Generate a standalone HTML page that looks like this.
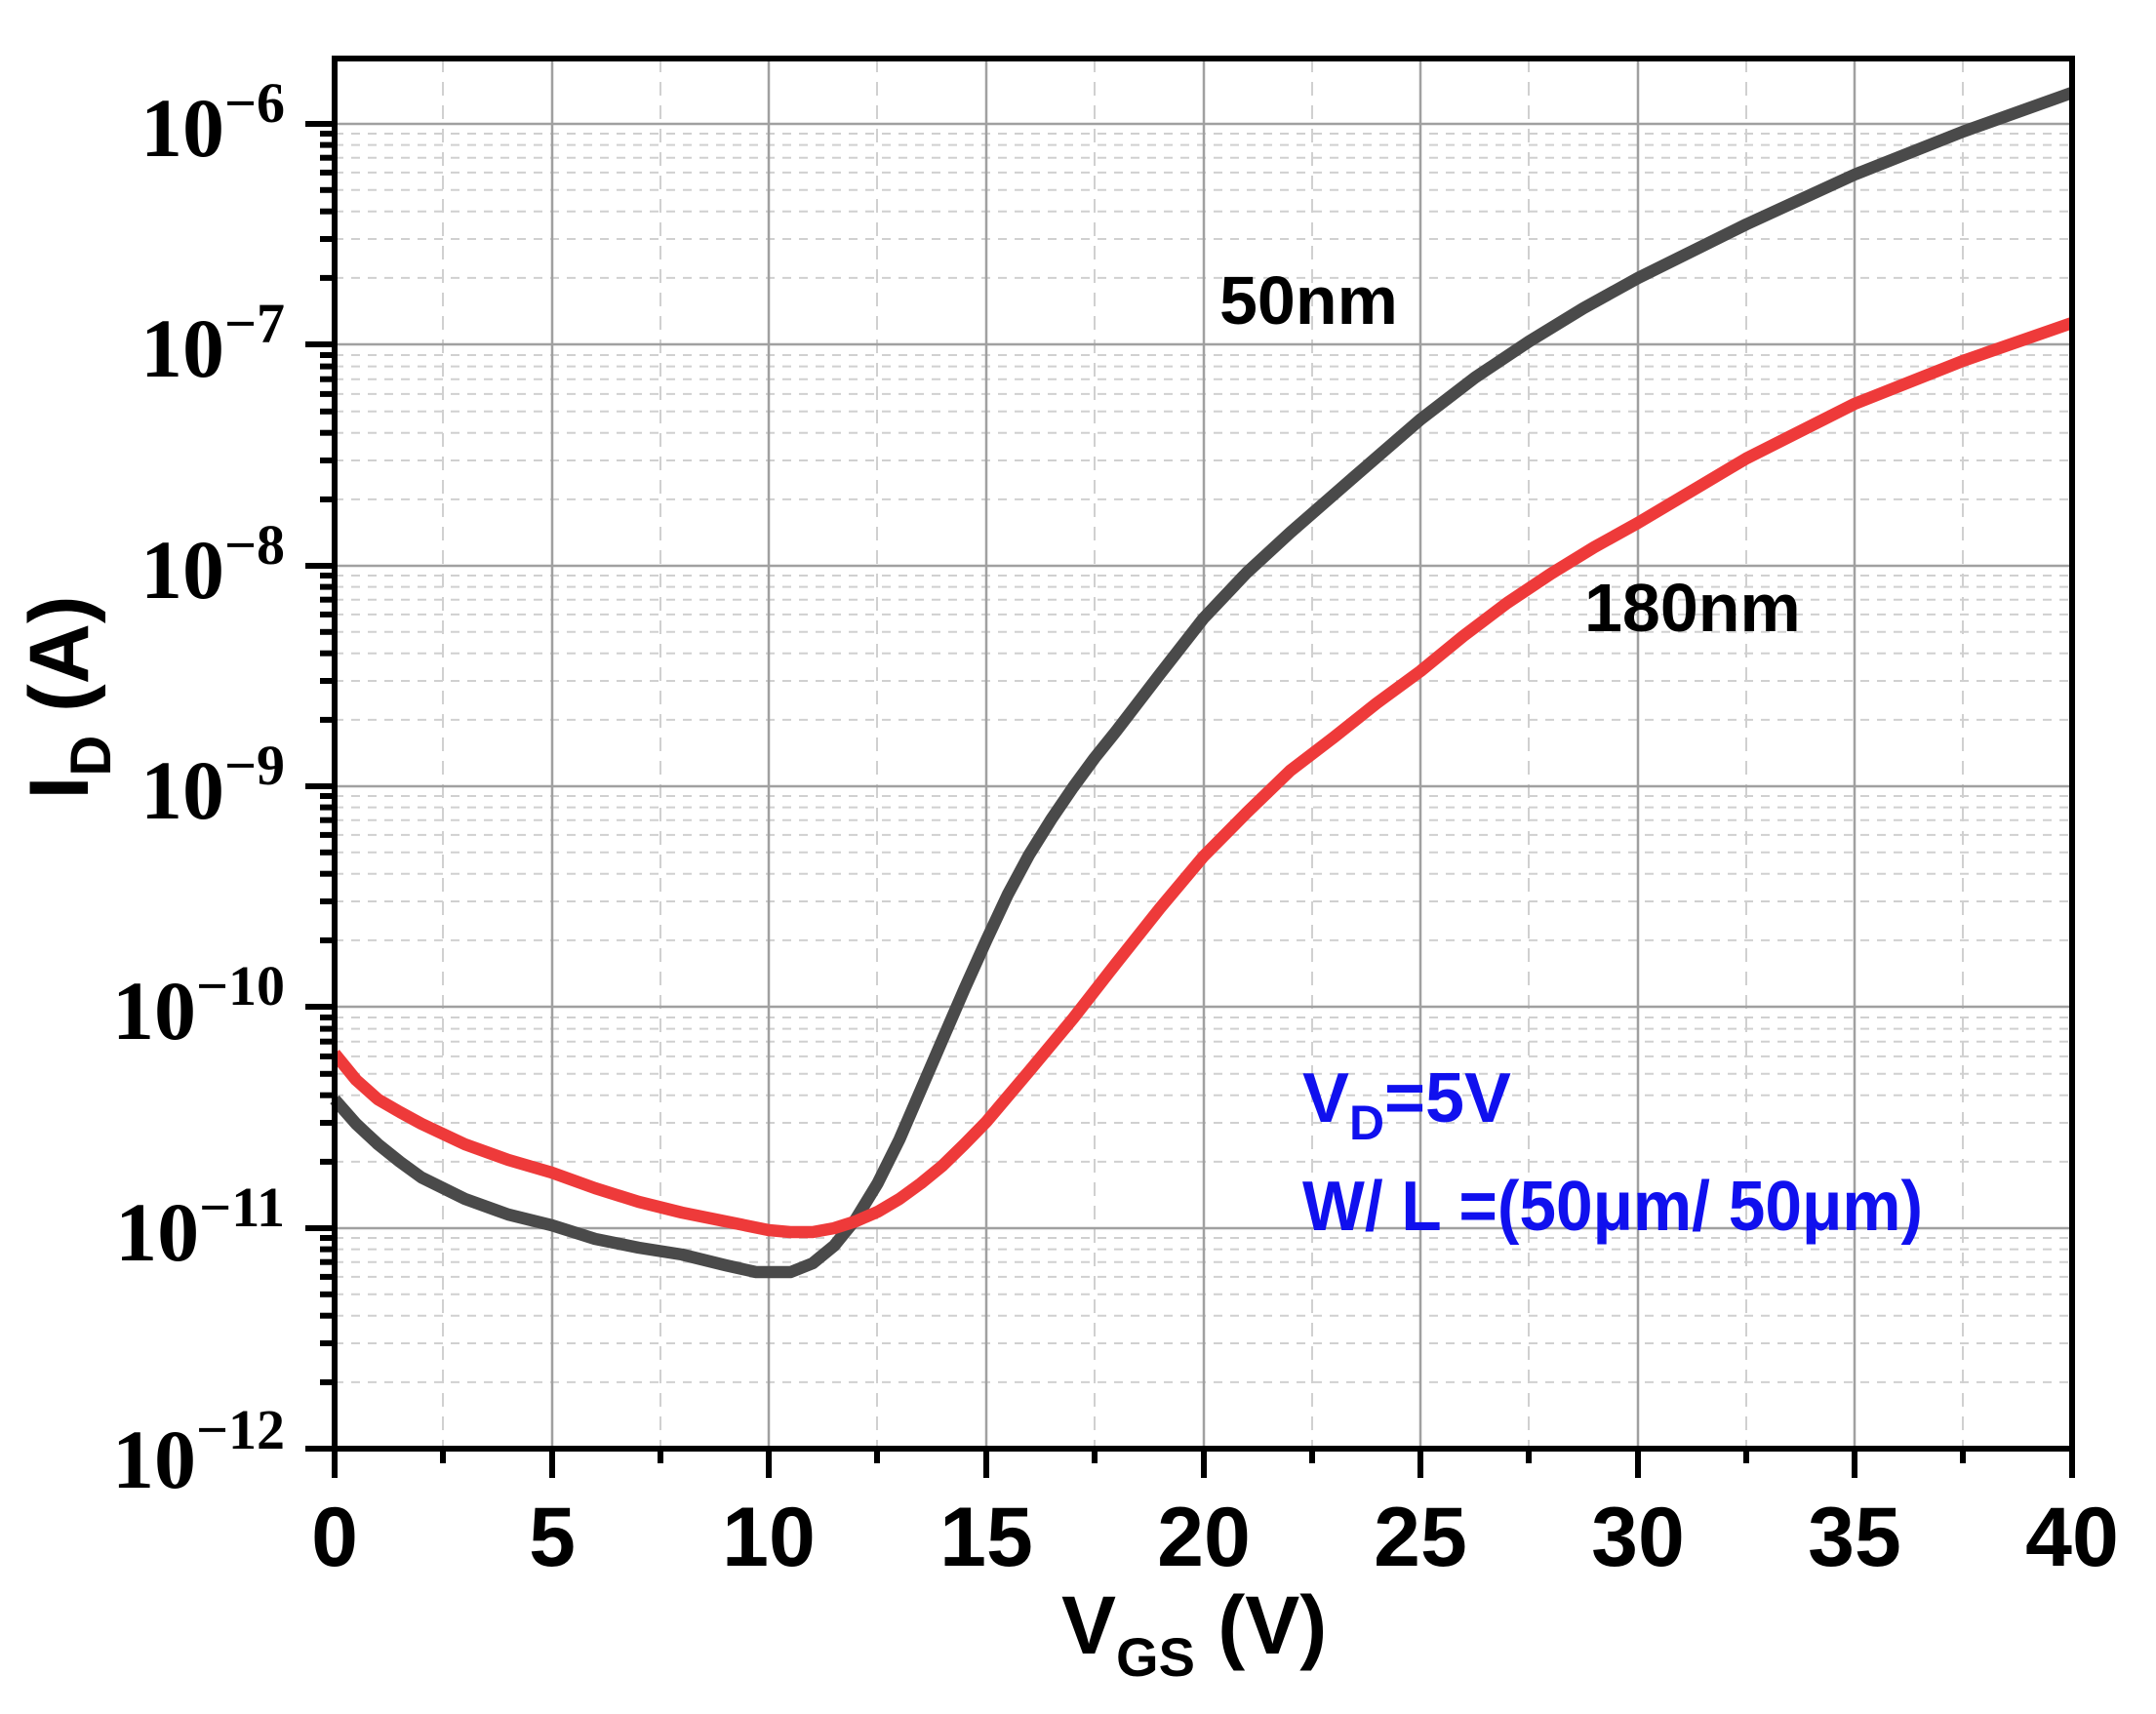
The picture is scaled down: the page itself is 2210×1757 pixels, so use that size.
<!DOCTYPE html>
<html><head><meta charset="utf-8"><style>
html,body{margin:0;padding:0;background:#fff;}
svg{display:block;}
</style></head><body>
<svg xmlns="http://www.w3.org/2000/svg" xmlns:xlink="http://www.w3.org/1999/xlink" width="2210" height="1757" viewBox="0 0 2210 1757">
<defs>
<g id="dec">
<line x1="343" x2="2124" y1="-68.1" y2="-68.1"/>
<line x1="343" x2="2124" y1="-108" y2="-108"/>
<line x1="343" x2="2124" y1="-136.3" y2="-136.3"/>
<line x1="343" x2="2124" y1="-158.2" y2="-158.2"/>
<line x1="343" x2="2124" y1="-176.1" y2="-176.1"/>
<line x1="343" x2="2124" y1="-191.3" y2="-191.3"/>
<line x1="343" x2="2124" y1="-204.4" y2="-204.4"/>
<line x1="343" x2="2124" y1="-216" y2="-216"/>
</g>
<g id="mt">
<line x1="328" x2="343" y1="-68.1" y2="-68.1"/>
<line x1="328" x2="343" y1="-108" y2="-108"/>
<line x1="328" x2="343" y1="-136.3" y2="-136.3"/>
<line x1="328" x2="343" y1="-158.2" y2="-158.2"/>
<line x1="328" x2="343" y1="-176.1" y2="-176.1"/>
<line x1="328" x2="343" y1="-191.3" y2="-191.3"/>
<line x1="328" x2="343" y1="-204.4" y2="-204.4"/>
<line x1="328" x2="343" y1="-216" y2="-216"/>
</g>
</defs>
<rect width="2210" height="1757" fill="#fff"/>
<g stroke="#d0d0d0" stroke-width="2" stroke-dasharray="9,8">
<use xlink:href="#dec" transform="translate(0,353)"/>
<use xlink:href="#dec" transform="translate(0,580)"/>
<use xlink:href="#dec" transform="translate(0,806)"/>
<use xlink:href="#dec" transform="translate(0,1032)"/>
<use xlink:href="#dec" transform="translate(0,1259)"/>
<use xlink:href="#dec" transform="translate(0,1485)"/>
</g>
<g stroke="#d0d0d0" stroke-width="2" stroke-dasharray="14,10">
<line x1="454" x2="454" y1="60" y2="1485"/>
<line x1="677" x2="677" y1="60" y2="1485"/>
<line x1="899" x2="899" y1="60" y2="1485"/>
<line x1="1122" x2="1122" y1="60" y2="1485"/>
<line x1="1345" x2="1345" y1="60" y2="1485"/>
<line x1="1567" x2="1567" y1="60" y2="1485"/>
<line x1="1790" x2="1790" y1="60" y2="1485"/>
<line x1="2012" x2="2012" y1="60" y2="1485"/>
</g>
<g stroke="#a0a0a0" stroke-width="2.5">
<line x1="566" x2="566" y1="60" y2="1485"/>
<line x1="788" x2="788" y1="60" y2="1485"/>
<line x1="1011" x2="1011" y1="60" y2="1485"/>
<line x1="1234" x2="1234" y1="60" y2="1485"/>
<line x1="1456" x2="1456" y1="60" y2="1485"/>
<line x1="1679" x2="1679" y1="60" y2="1485"/>
<line x1="1901" x2="1901" y1="60" y2="1485"/>
<line x1="343" x2="2124" y1="127" y2="127"/>
<line x1="343" x2="2124" y1="353" y2="353"/>
<line x1="343" x2="2124" y1="580" y2="580"/>
<line x1="343" x2="2124" y1="806" y2="806"/>
<line x1="343" x2="2124" y1="1032" y2="1032"/>
<line x1="343" x2="2124" y1="1259" y2="1259"/>
</g>
<polyline fill="none" stroke="#4a4a4a" stroke-width="12.5" stroke-linejoin="round" stroke-linecap="butt"
points="343,1127 365,1152 387.5,1173 410,1191 432,1207 476.6,1229 521,1245 565.6,1256 610,1270 654.7,1279 699,1286 743.7,1297 775,1304 810.5,1304 833,1295 855,1277 877,1250 899.6,1213 922,1168 944,1117 966,1066 988.5,1014 1011,964 1033,917 1055,876 1077.5,840 1100,807 1122,777 1144.5,749 1189,691 1233.5,634 1278,587 1322.5,546 1389,488 1456,430 1512,387 1567.4,350 1623,316 1679,285 1790,230 1901,179 2012,135 2124,95"/>
<polyline fill="none" stroke="#ee3a3a" stroke-width="12.5" stroke-linejoin="round" stroke-linecap="butt"
points="343,1080 365,1107 387.5,1127 410,1140 432,1152 476.6,1173 521,1189 565.6,1202 610,1218 654.7,1232 699,1243 743.7,1252 788,1261 810,1263 833,1263 855,1259 877,1252 900,1242 922,1229 944,1213 966,1195 988.5,1173 1011,1150 1055,1098 1100,1044 1144.5,987 1189,931 1233.5,878 1278,833 1322.5,790 1367,756 1411,721 1456,688 1500,652 1545,618 1590,588 1634,561 1679,536 1790,470 1901,414 2012,370 2124,331"/>
<rect x="343" y="60" width="1781" height="1425" fill="none" stroke="#000" stroke-width="6"/>
<g stroke="#000" stroke-width="6">
<line x1="313" x2="343" y1="127" y2="127"/>
<line x1="313" x2="343" y1="353" y2="353"/>
<line x1="313" x2="343" y1="580" y2="580"/>
<line x1="313" x2="343" y1="806" y2="806"/>
<line x1="313" x2="343" y1="1032" y2="1032"/>
<line x1="313" x2="343" y1="1259" y2="1259"/>
<line x1="313" x2="343" y1="1485" y2="1485"/>
<use xlink:href="#mt" transform="translate(0,353)"/>
<use xlink:href="#mt" transform="translate(0,580)"/>
<use xlink:href="#mt" transform="translate(0,806)"/>
<use xlink:href="#mt" transform="translate(0,1032)"/>
<use xlink:href="#mt" transform="translate(0,1259)"/>
<use xlink:href="#mt" transform="translate(0,1485)"/>
</g>
<g stroke="#000" stroke-width="6">
<line x1="343" x2="343" y1="1485" y2="1515"/>
<line x1="566" x2="566" y1="1485" y2="1515"/>
<line x1="788" x2="788" y1="1485" y2="1515"/>
<line x1="1011" x2="1011" y1="1485" y2="1515"/>
<line x1="1234" x2="1234" y1="1485" y2="1515"/>
<line x1="1456" x2="1456" y1="1485" y2="1515"/>
<line x1="1679" x2="1679" y1="1485" y2="1515"/>
<line x1="1901" x2="1901" y1="1485" y2="1515"/>
<line x1="2124" x2="2124" y1="1485" y2="1515"/>
<line x1="454" x2="454" y1="1485" y2="1500"/>
<line x1="677" x2="677" y1="1485" y2="1500"/>
<line x1="899" x2="899" y1="1485" y2="1500"/>
<line x1="1122" x2="1122" y1="1485" y2="1500"/>
<line x1="1345" x2="1345" y1="1485" y2="1500"/>
<line x1="1567" x2="1567" y1="1485" y2="1500"/>
<line x1="1790" x2="1790" y1="1485" y2="1500"/>
<line x1="2012" x2="2012" y1="1485" y2="1500"/>
</g>
<g font-family="Liberation Serif, serif" font-weight="bold" fill="#000" text-anchor="end">
<text x="292" y="160" font-size="86">10<tspan font-size="58" dy="-35">−6</tspan></text>
<text x="292" y="386" font-size="86">10<tspan font-size="58" dy="-35">−7</tspan></text>
<text x="292" y="613" font-size="86">10<tspan font-size="58" dy="-35">−8</tspan></text>
<text x="292" y="839" font-size="86">10<tspan font-size="58" dy="-35">−9</tspan></text>
<text x="292" y="1065" font-size="86">10<tspan font-size="58" dy="-35">−10</tspan></text>
<text x="292" y="1292" font-size="86">10<tspan font-size="58" dy="-35">−11</tspan></text>
<text x="292" y="1525" font-size="86">10<tspan font-size="58" dy="-40">−12</tspan></text>
</g>
<g font-family="Liberation Sans, Arial, sans-serif" font-weight="bold" font-size="86" fill="#000" text-anchor="middle">
<text x="343" y="1605">0</text>
<text x="566" y="1605">5</text>
<text x="788" y="1605">10</text>
<text x="1011" y="1605">15</text>
<text x="1234" y="1605">20</text>
<text x="1456" y="1605">25</text>
<text x="1679" y="1605">30</text>
<text x="1901" y="1605">35</text>
<text x="2124" y="1605">40</text>
</g>
<text x="1088" y="1695" font-family="Liberation Sans, Arial, sans-serif" font-weight="bold" font-size="84" fill="#000">V<tspan font-size="56" dy="23">GS</tspan><tspan dy="-23"> (V)</tspan></text>
<text transform="translate(90,715) rotate(-90)" text-anchor="middle" font-family="Liberation Sans, Arial, sans-serif" font-weight="bold" font-size="86" fill="#000">I<tspan font-size="58" dy="23">D</tspan><tspan dy="-23">  (A)</tspan></text>
<text x="1250" y="332" font-family="Liberation Sans, Arial, sans-serif" font-weight="bold" font-size="70" fill="#000">50nm</text>
<text x="1624" y="647" font-family="Liberation Sans, Arial, sans-serif" font-weight="bold" font-size="70" fill="#000">180nm</text>
<text x="1335" y="1150" font-family="Liberation Sans, Arial, sans-serif" font-weight="bold" font-size="72" fill="#1010ee" textLength="214" lengthAdjust="spacingAndGlyphs">V<tspan font-size="50" dy="18">D</tspan><tspan dy="-18">=5V</tspan></text>
<text x="1335" y="1261" font-family="Liberation Sans, Arial, sans-serif" font-weight="bold" font-size="72" fill="#1010ee" textLength="636" lengthAdjust="spacingAndGlyphs">W/ L =(50μm/ 50μm)</text>
</svg>
</body></html>
